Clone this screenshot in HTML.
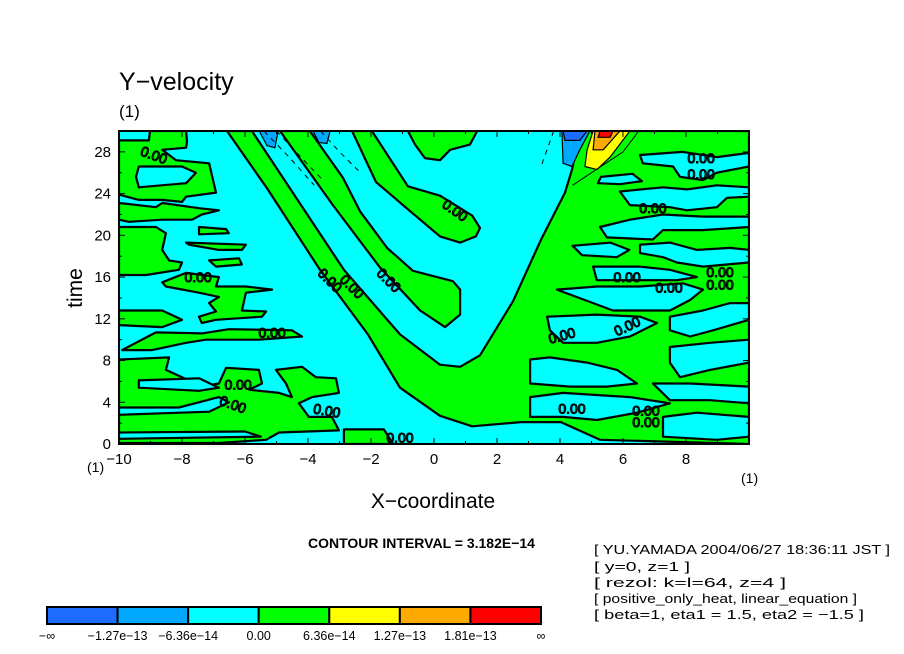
<!DOCTYPE html>
<html><head><meta charset="utf-8">
<style>
html,body{margin:0;padding:0;background:#fff;}
body{width:904px;height:654px;overflow:hidden;position:relative;font-family:"Liberation Sans",sans-serif;}
svg{position:absolute;left:0;top:0;}
</style></head>
<body>
<svg id="chart" width="904" height="654" viewBox="0 0 904 654"></svg>
<script>
// ---- axis definitions ----
const xTicks = [-10,-8,-6,-4,-2,0,2,4,6,8];
const xTickLabels = ["-10","-8","-6","-4","-2","0","2","4","6","8"];
const yTicks = [0,4,8,12,16,20,24,28];
const yTickLabels = ["0","4","8","12","16","20","24","28"];
const levelLabels = ["\u2212\u221e","\u22121.27e\u221213","\u22126.36e\u221214","0.00","6.36e\u221214","1.27e\u221213","1.81e\u221213","\u221e"];
const levelColors = ["#1e6cff","#00a8ff","#00ffff","#00ff00","#ffff00","#ffaa00","#ff0000"];

// ---- contour regions (x, time) ----
const vBand = [[-6.57,30],[-5.3,24.5],[-3.62,16.7],[-2.1,10.5],[-1.08,5.4],[0.19,2.7],[1.21,1.7],[2.76,2.1],[4.03,2.1],[5.27,0.4],[10,0],[10,30],[4.63,30],[4.38,26.3],[4.16,24.1],[3.4,19.6],[2.51,13.7],[1.46,8.5],[0.83,7.4],[0.19,7.6],[-1.08,10.5],[-2.86,16.7],[-5.78,30]];
const bandB = [[-4.89,30],[-3.21,22.9],[-1.71,16.9],[-0.44,12.8],[0.35,11.2],[0.83,12.4],[0.83,14.8],[0.6,15.6],[-0.67,16.6],[-1.49,18.8],[-2.35,22.3],[-2.89,25.5],[-3.94,30]];
const bandC = [[-2.6,30],[-1.84,25.1],[-0.83,22.5],[0.19,19.9],[0.83,19.3],[1.33,19.9],[1.46,20.7],[1.21,21.9],[0.19,23.8],[-0.83,24.7],[-1.97,30]];
const topPatch = [[-0.83,30],[1.37,30],[1.14,28.7],[0.51,28.2],[0.19,27.2],[-0.29,27.4],[-0.6,28.7]];
const leftP1 = [[-10,29.1],[-9.05,29.1],[-9.02,30],[-7.87,30],[-7.84,29.0],[-7.87,28.4],[-8.63,28.2],[-8.19,27.2],[-7.14,26.9],[-6.92,24.1],[-7.87,23.7],[-8.0,23.2],[-8.63,23.4],[-9.37,23.4],[-10,23.9]];
const leftP2 = [[-10,23.1],[-8.83,22.7],[-8.63,23.1],[-7.46,22.6],[-6.83,22.4],[-7.37,22.0],[-7.68,21.5],[-8.63,21.5],[-9.68,21.3],[-10,21.5]];
const leftP3 = [[-10,20.8],[-8.83,20.8],[-8.51,20.2],[-8.63,18.6],[-8.41,17.6],[-8.0,17.4],[-8.1,16.7],[-9.14,16.2],[-10,16.2]];
const leftP3b = [[-7.46,20.8],[-6.6,20.6],[-6.51,20.2],[-7.46,20.1]];
const leftP4 = [[-7.87,19.3],[-5.97,19.1],[-6.1,18.6],[-6.83,18.6],[-7.78,19.1]];
const leftP5 = [[-7.14,17.6],[-6.19,17.8],[-6.1,17.2],[-6.92,17.0]];
const leftP6 = [[-8.63,15.5],[-7.87,16.4],[-6.83,16.0],[-6.92,15.1],[-5.97,15.1],[-5.14,14.8],[-5.97,14.5],[-6.1,12.8],[-5.33,12.7],[-5.46,12.2],[-6.92,11.9],[-7.37,11.6],[-7.46,12.2],[-6.92,12.7],[-7.14,13.5],[-6.83,14.1],[-7.46,14.5],[-8.51,15.1]];
const leftP7 = [[-10,12.8],[-8.63,12.8],[-8.0,11.9],[-8.63,11.2],[-10,11.4]];
const leftP8 = [[-9.9,9.0],[-8.83,10.7],[-7.37,10.6],[-6.51,11.0],[-4.51,10.9],[-4.19,10.3],[-5.56,10.0],[-7.24,10.0],[-7.87,9.7],[-8.95,9.0]];
const leftP9 = [[-10,8.1],[-8.41,8.3],[-8.51,7.1],[-8.0,6.4],[-7.37,5.5],[-6.83,5.8],[-6.6,7.3],[-5.56,7.1],[-5.46,5.8],[-5.87,5.2],[-4.92,4.9],[-4.51,4.5],[-4.7,5.8],[-5.02,7.1],[-4.19,7.4],[-3.75,6.4],[-3.11,6.3],[-3.02,4.9],[-3.87,4.5],[-4.29,3.9],[-3.97,2.6],[-3.24,2.6],[-3.02,1.3],[-4.92,1.1],[-5.33,0.4],[-6.83,0.1],[-10,0.1]];
const bottomP10 = [[-2.86,1.4],[-1.59,1.4],[-1.3,0],[-2.86,0]];
const greenRegions = [vBand,bandB,bandC,topPatch,leftP1,leftP2,leftP3,leftP3b,leftP4,leftP5,leftP6,leftP7,leftP8,leftP9,bottomP10];

const holeH1 = [[-9.37,26.6],[-8.0,26.6],[-7.56,26.0],[-7.87,25.0],[-9.37,24.6],[-9.46,25.6]];
const holeH2 = [[-9.37,6.1],[-7.46,6.3],[-6.83,5.4],[-7.46,5.1],[-9.37,5.4]];
const holeH3 = [[-10,3.5],[-8.1,3.5],[-6.83,4.5],[-6.51,4.0],[-7.14,3.1],[-10,2.8]];
const holeH4 = [[-10,1.1],[-6.0,1.2],[-5.5,0.7],[-10,0.5]];
const rightR1 = [[6.54,27.7],[7.9,28.0],[8.98,27.5],[10,27.9],[10,26.6],[8.98,26.0],[8.54,25.3],[7.81,25.6],[7.59,26.6],[6.63,26.9]];
const rightR2 = [[5.9,24.2],[7.27,24.6],[8.03,24.4],[8.98,24.8],[10,24.6],[10,23.7],[9.3,23.6],[8.98,22.7],[8.03,22.4],[7.49,22.7],[6.22,22.9]];
const rightR3 = [[5.27,20.8],[6.22,21.5],[7.27,22.0],[8.54,21.8],[10,21.8],[10,20.8],[8.54,20.5],[7.27,20.5],[6.95,19.6],[5.49,19.8]];
const rightR4 = [[6.54,19.1],[7.49,19.3],[8.35,18.6],[9.4,18.8],[10,18.6],[10,17.4],[8.54,17.0],[7.71,17.4],[7.27,17.9],[6.54,18.3]];
const rightR5 = [[5.05,17.0],[6.54,17.0],[7.49,16.7],[8.35,16.0],[7.71,15.7],[5.17,15.7]];
const rightR6 = [[3.9,14.8],[5.17,15.1],[6.54,15.1],[7.9,15.4],[8.54,14.8],[8.13,13.8],[7.49,12.8],[6.76,12.8],[5.68,12.8],[5.05,13.5]];
const rightR7 = [[3.59,12.2],[5.17,12.4],[6.54,12.2],[7.08,11.6],[6.22,10.3],[5.17,9.7],[4.1,9.7],[3.68,10.9]];
const rightR8 = [[7.49,12.2],[8.54,12.8],[9.4,13.5],[10,13.5],[10,11.9],[8.86,10.9],[8.13,10.3],[7.49,10.9]];
const rightR9 = [[7.49,9.3],[8.76,9.7],[10,10.0],[10,7.8],[8.76,7.1],[7.81,6.4],[7.49,7.8]];
const rightR10 = [[3.05,8.1],[3.68,8.3],[4.86,7.8],[5.81,7.1],[6.44,5.8],[5.49,5.5],[4.32,5.5],[3.05,5.8]];
const rightR11 = [[6.95,5.8],[8.13,5.8],[10,5.5],[10,3.9],[8.76,4.2],[7.49,4.2]];
const rightR12 = [[3.05,4.5],[4.1,4.9],[6.22,4.5],[7.49,3.9],[6.44,3.0],[5.17,2.3],[4.1,2.6],[3.05,2.6]];
const rightR13 = [[7.27,2.6],[8.35,3.0],[10,2.6],[10,0.7],[8.98,0.4],[7.27,0.7]];
const rightR14 = [[4.4,19.0],[5.6,19.3],[6.2,18.6],[5.8,17.9],[4.7,18.1]];
const rightR15 = [[5.3,25.6],[6.3,25.9],[6.6,25.2],[5.9,24.9],[5.2,25.0]];
const cyanRegions = [holeH1,holeH2,holeH3,holeH4,rightR1,rightR2,rightR3,rightR4,rightR5,rightR6,rightR7,rightR8,rightR9,rightR10,rightR11,rightR12,rightR13,rightR14,rightR15];

const blueMidA = [[-5.55,30],[-4.95,30],[-5.05,28.4],[-5.3,28.6]];
const blueMidB = [[-3.84,30],[-3.3,30],[-3.4,28.8],[-3.65,28.9]];
const blueMidC = [[4.06,30],[4.95,30],[4.63,28.2],[4.38,26.6],[4.1,26.9]];
const blueDark = [[4.1,30],[4.86,30],[4.63,29.1],[4.16,29.1]];
const yellowBlob = [[4.79,26.6],[5.17,26.3],[5.59,27.5],[6.22,30],[5.05,30],[4.86,28.2]];
const orangeBlob = [[5.05,28.2],[5.37,28.2],[5.9,30],[5.11,30]];
const redBlob = [[5.21,29.4],[5.59,29.4],[5.68,30],[5.27,30]];

const dashedA = [[-5.4,30],[-4.6,27.5],[-3.8,24.8]];
const dashedB = [[-5.0,30],[-4.2,27.4],[-3.5,25.2]];
const dashedC = [[-3.6,30],[-3.0,28],[-2.4,26.2]];
const dashedD = [[3.8,30],[3.6,28.3],[3.4,26.6]];
const thinLine = [[4.4,24.8],[5.0,26.0],[6.0,28.0],[6.5,30]];

const labelX = [-8.89,-7.49,-5.14,-6.22,-6.38,-3.4,-1.08,0.67,-3.3,-2.6,-1.43,4.06,6.13,6.13,7.46,9.08,9.08,8.48,8.48,6.95,4.38,6.73,6.73];
const labelT = [27.7,16.0,10.7,5.7,3.8,3.2,0.6,22.4,15.7,15.1,15.7,10.4,11.3,16.0,15.0,16.5,15.3,27.4,25.9,22.6,3.4,3.2,2.1];
const labelRot = [20,0,0,0,20,10,0,35,45,45,45,-15,-25,0,0,0,0,0,0,0,0,0,0];

// ---- scales ----
const PX0=119, PX1=749, PY0=444, PY1=131;
function sx(x){ return PX0 + (x+10)/20*(PX1-PX0); }
function sy(t){ return PY0 - t/30*(PY0-PY1); }

const NS="http://www.w3.org/2000/svg";
const svg=document.getElementById('chart');
function mk(tag,attrs,parent){ const e=document.createElementNS(NS,tag); for(const k in attrs) e.setAttribute(k,attrs[k]); (parent||svg).appendChild(e); return e; }
function pts(arr){ return arr.map(p=>sx(p[0]).toFixed(1)+','+sy(p[1]).toFixed(1)).join(' '); }

const defs=mk('defs',{});
const cp=mk('clipPath',{id:'plotclip'},defs);
mk('rect',{x:PX0,y:PY1,width:PX1-PX0,height:PY0-PY1},cp);

const plot=mk('g',{'clip-path':'url(#plotclip)'});


const bg=mk('rect',{x:PX0,y:PY1,width:PX1-PX0,height:PY0-PY1,fill:'#00ffff'},plot);



greenRegions.forEach((r,i)=>{
  const p=mk('polygon',{points:pts(r),fill:'#00ff00',stroke:'#000','stroke-width':2.2,'stroke-linejoin':'round'},plot);
  
  
});
cyanRegions.forEach((r,i)=>{
  const p=mk('polygon',{points:pts(r),fill:'#00ffff',stroke:'#000','stroke-width':2.2,'stroke-linejoin':'round'},plot);
  
  
});
[[blueMidA,levelColors[1]],[blueMidB,levelColors[1]],[blueMidC,levelColors[1]],[blueDark,levelColors[0]],[yellowBlob,levelColors[4]],[orangeBlob,levelColors[5]],[redBlob,levelColors[6]]].forEach((b,i)=>{
  const p=mk('polygon',{points:pts(b[0]),fill:b[1],stroke:'#000','stroke-width':1.2},plot);
  
  
});
[dashedA,dashedB,dashedC,dashedD].forEach((d,i)=>{
  const l=mk('polyline',{points:pts(d),fill:'none',stroke:'#000','stroke-width':1,'stroke-dasharray':'5,5'},plot);
  
  
});
const tl=mk('polyline',{points:pts(thinLine),fill:'none',stroke:'#000','stroke-width':1},plot);



labelX.forEach((x,i)=>{
  const X=sx(x), Y=sy(labelT[i]);
  const t=mk('text',{x:X,y:Y+5,'text-anchor':'middle','font-size':14,'font-family':'Liberation Sans, sans-serif',fill:'none',stroke:'#000','stroke-width':1.1,transform:'rotate('+labelRot[i]+' '+X+' '+Y+')'},plot);
  t.textContent='0.00';
  
  
});

const fr=mk('rect',{x:PX0,y:PY1,width:PX1-PX0,height:PY0-PY1,fill:'none',stroke:'#000','stroke-width':2});



for(let v=-10; v<=10; v+=1){
  const L=(v%2===0)?6:3;
  mk('line',{x1:sx(v),x2:sx(v),y1:PY0,y2:PY0-L,stroke:'#000','stroke-width':1});
  mk('line',{x1:sx(v),x2:sx(v),y1:PY1,y2:PY1+L,stroke:'#000','stroke-width':1});
}
for(let v=0; v<=30; v+=2){
  const L=(v%4===0)?6:3;
  mk('line',{x1:PX0,x2:PX0+L,y1:sy(v),y2:sy(v),stroke:'#000','stroke-width':1});
  mk('line',{x1:PX1,x2:PX1-L,y1:sy(v),y2:sy(v),stroke:'#000','stroke-width':1});
}
xTicks.forEach((v,i)=>{
  const t=mk('text',{x:sx(v),y:464,'text-anchor':'middle','font-size':15});
  t.textContent=xTickLabels[i].replace('-','\u2212');
  
  
});
yTicks.forEach((v,i)=>{
  const t=mk('text',{x:111,y:sy(v)+5,'text-anchor':'end','font-size':15});
  t.textContent=yTickLabels[i];
  
  
});

const CB0=47, CB1=541, CBY=607, CBH=17;
const cw=(CB1-CB0)/levelColors.length;
levelColors.forEach((c,i)=>{
  const r=mk('rect',{x:CB0+i*cw,y:CBY,width:cw,height:CBH,fill:c,stroke:'#000','stroke-width':2});
  
  
});
levelLabels.forEach((s,i)=>{
  const t=mk('text',{x:CB0+i*cw,y:640,'text-anchor':'middle','font-size':12.5});
  t.textContent=s;
  
  
});
</script>
<svg width="904" height="654" style="pointer-events:none">
<text x="119" y="90" font-size="25" font-family="Liberation Sans, sans-serif">Y−velocity</text>
<text x="119" y="117" font-size="17" font-family="Liberation Sans, sans-serif">(1)</text>
<text x="87" y="472" font-size="14" font-family="Liberation Sans, sans-serif">(1)</text>
<text x="741" y="483" font-size="14" font-family="Liberation Sans, sans-serif">(1)</text>
<text x="433" y="508" font-size="21" text-anchor="middle" font-family="Liberation Sans, sans-serif">X−coordinate</text>
<text x="0" y="0" font-size="21" text-anchor="middle" transform="translate(82,288) rotate(-90)" font-family="Liberation Sans, sans-serif">time</text>
<text x="308" y="548" font-size="14" font-weight="bold" font-family="Liberation Sans, sans-serif">CONTOUR INTERVAL = 3.182E−14</text>
<g font-family="Liberation Sans, sans-serif" font-size="13">
<text x="594" y="554" textLength="296" lengthAdjust="spacingAndGlyphs">[ YU.YAMADA 2004/06/27 18:36:11 JST ]</text>
<text x="594" y="571" textLength="96" lengthAdjust="spacingAndGlyphs">[ y=0, z=1 ]</text>
<text x="594" y="587" textLength="192" lengthAdjust="spacingAndGlyphs">[ rezol: k=l=64, z=4 ]</text>
<text x="594" y="603" textLength="263" lengthAdjust="spacingAndGlyphs">[ positive_only_heat, linear_equation ]</text>
<text x="594" y="619" textLength="270" lengthAdjust="spacingAndGlyphs">[ beta=1, eta1 = 1.5, eta2 = −1.5 ]</text>
</g>
</svg>
</body></html>
